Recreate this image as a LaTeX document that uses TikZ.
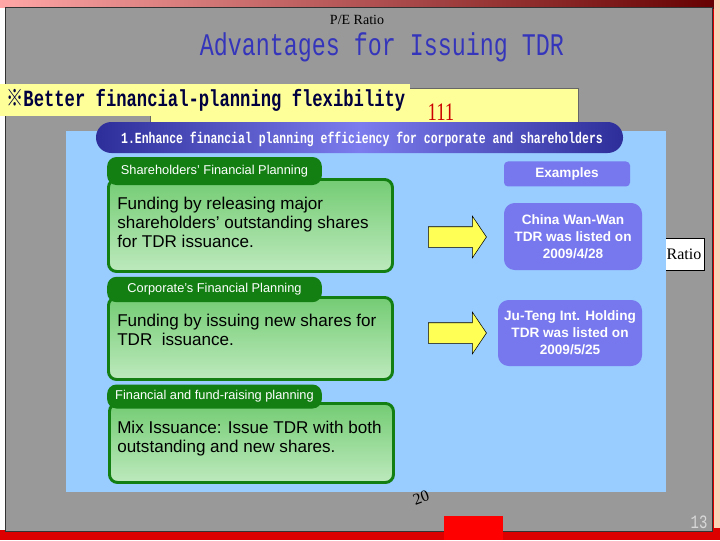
\documentclass[tikz,border=0pt]{standalone}
\usepackage{graphicx}
\usepackage{fontspec}
\setmainfont{Liberation Sans}
\newfontfamily\monofont{Liberation Mono}
\newfontfamily\seriffont{Liberation Serif}
\newfontfamily\cjkfont{Noto Sans CJK SC}
\usetikzlibrary{positioning,shapes.arrows}

\definecolor{slidegrey}{HTML}{999999}
\definecolor{panelblue}{HTML}{99CCFF}
\definecolor{bannerylw}{HTML}{FFFF99}
\definecolor{titleblue}{HTML}{3535BB}
\definecolor{pilldark}{HTML}{2E2E9A}
\definecolor{pilllight}{HTML}{7C7CEE}
\definecolor{tabgreen}{HTML}{137F13}
\definecolor{cardtop}{HTML}{74CC74}
\definecolor{cardbot}{HTML}{BDE9BD}
\definecolor{exblue}{HTML}{7777EE}
\definecolor{arrowylw}{HTML}{FFFF55}
\definecolor{framered}{HTML}{DD0000}
\definecolor{peach}{HTML}{FCD2B4}

% taller, narrower letters as on the slide
\newcommand{\tallx}[1]{\scalebox{1}[1.35]{#1}}

\begin{document}
\begin{tikzpicture}[
  x=0.75pt, y=-0.75pt,
  tab/.style={fill=tabgreen,rounded corners=7pt,minimum width=161pt,inner sep=0pt,
    text=white,font=\fontsize{9.6}{11}\selectfont},
  card/.style={draw=tabgreen,line width=2.2pt,rounded corners=6pt,top color=cardtop,
    bottom color=cardbot,minimum width=213pt,inner sep=0pt,anchor=north west},
  cardtext/.style={align=left,anchor=north west,inner sep=0pt,
    font=\fontsize{12.8}{14.25}\selectfont},
  example/.style={fill=exblue,rounded corners=8pt,text=white,align=center,inner sep=0pt,
    font=\bfseries\fontsize{10.2}{12.75}\selectfont},
  blockarrow/.style={single arrow,draw=black,fill=arrowylw,inner xsep=0pt,inner ysep=7.5pt,
    minimum height=43.5pt,single arrow head extend=7.9pt,single arrow tip angle=112}
]
  \useasboundingbox (0,0) rectangle (720,540);
  % slide frame
  \fill[framered] (0,0) rectangle (720,540);
  \shade[left color=red!35!white,right color=red!40!black] (0,0) rectangle (720,8);
  \fill[peach] (714,0) rectangle (720,528);
  \fill[white] (0,8) rectangle (5,530);
  \filldraw[fill=slidegrey,draw=black!80] (5,7) rectangle (712,531);
  \fill[red] (444,516) rectangle (503,540);
  \node[text=white!85!black,font=\monofont\fontsize{10.5}{12}\selectfont] (pageno)
    at (699,522) {\tallx{13}};

  % leftovers of the chart behind
  \node[inner sep=0pt,font=\seriffont\fontsize{10.5}{12}\selectfont] (pe) at (357,20) {P/E Ratio};
  \filldraw[fill=bannerylw,draw=black!60] (150,88) rectangle (578,160);
  \node[text=red!80!black,font=\seriffont\fontsize{14}{16}\selectfont] (hundred)
    at (441,112) {\tallx{111}};
  \node[draw,fill=white,inner sep=0pt,minimum width=31pt,minimum height=24pt,
    font=\seriffont\fontsize{12}{14}\selectfont] (ratio) at (684,254) {Ratio};

  % title and banner
  \node[inner sep=0pt,text=titleblue,font=\monofont\fontsize{17.5}{20}\selectfont] (title)
    at (382,47) {\tallx{Advantages for Issuing TDR}};
  \node[fill=bannerylw,anchor=north west,minimum width=307.5pt,minimum height=24pt,
    inner sep=0pt] (banner) at (0,84) {};
  \node[anchor=west,inner sep=0pt,text=black!75!blue,
    font=\monofont\bfseries\fontsize{12.9}{14}\selectfont] (bannertext) at (6,100)
    {\tallx{{\cjkfont ※}Better financial-planning flexibility}};

  % main panel
  \fill[panelblue] (66,131) rectangle (666,492);
  \node[rotate=20,inner sep=0pt,font=\seriffont\fontsize{12}{14}\selectfont] (yr)
    at (421,498) {20};
  \node[left color=pilldark,right color=pilldark,middle color=pilllight,
    rounded corners=11.5pt,minimum width=395.25pt,minimum height=23.25pt,inner sep=0pt]
    (pill) at (359.5,137.5) {};
  \node[text=white,font=\monofont\bfseries\fontsize{8.6}{10}\selectfont] (pilltext)
    at (362,139) {\tallx{1.Enhance financial planning efficiency for corporate and shareholders}};

  % planning cards
  \node[card,minimum height=69pt] (card1) at (107,178) {};
  \node[tab,minimum height=21pt] (tab1) at (214.5,171) {Shareholders' Financial Planning};
  \node[cardtext] (text1) at (117,197)
    {Funding by releasing major\\shareholders' outstanding shares\\for TDR issuance.};

  \node[card,minimum height=61.5pt] (card2) at (107,296) {};
  \node[tab,minimum height=19pt] (tab2) at (214.5,289.5) {Corporate's Financial Planning};
  \node[cardtext] (text2) at (117,314)
    {Funding by issuing new shares for\\TDR\ \ issuance.};

  \node[card,minimum height=59.25pt] (card3) at (108,402) {};
  \node[tab,minimum height=18pt] (tab3) at (214.5,396.5) {Financial and fund-raising planning};
  \node[cardtext] (text3) at (117,421)
    {Mix Issuance: Issue TDR with both\\outstanding and new shares.};

  % examples
  \node[blockarrow] (arr1) at (454,237) {};
  \node[blockarrow] (arr2) at (454,333) {};
  \node[example,minimum width=103.5pt,minimum height=50.25pt] (wanwan) at (573,236.5)
    {China Wan-Wan\\TDR was listed on\\2009/4/28};
  \node[example,minimum width=108pt,minimum height=49.5pt] (juteng) at (570,333)
    {Ju-Teng Int. Holding\\TDR was listed on\\2009/5/25};
  \node[example,rounded corners=3pt,minimum width=94.5pt,minimum height=18.75pt,
    above=12pt of wanwan,xshift=-4.5pt] (examples) {Examples};
\end{tikzpicture}
\end{document}
